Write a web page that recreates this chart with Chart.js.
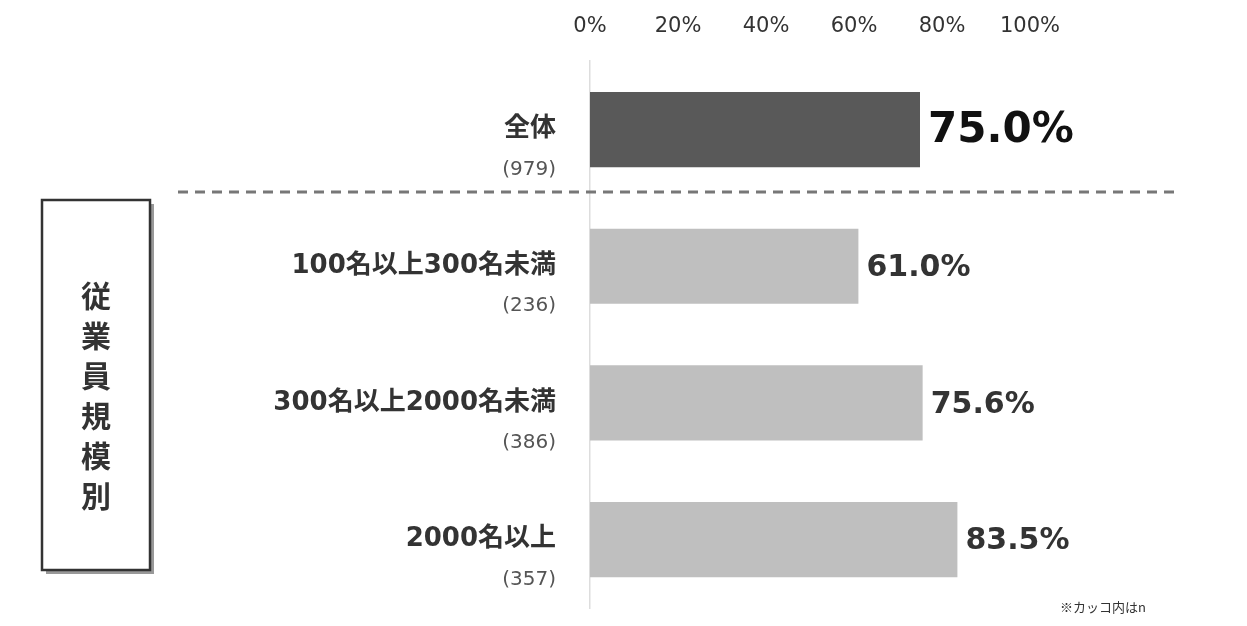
<!DOCTYPE html>
<html><head><meta charset="utf-8">
<script src="https://cdn.jsdelivr.net/npm/chart.js@4"></script>
<style>body{margin:0;background:#fff}#wrap{width:1247px;height:626px}</style>
</head><body><div id="wrap"><canvas id="c"></canvas></div>
<script>
const categories = ['全体', '100名以上300名未満', '300名以上2000名未満', '2000名以上'];
const counts = ['(979)', '(236)', '(386)', '(357)'];
const values = [75.0, 61.0, 75.6, 83.5];
const tickValues = [0, 20, 40, 60, 80, 100];
const FONT = '"DejaVu Sans", "Noto Sans CJK JP", sans-serif';
const JP = '"Noto Sans CJK JP", sans-serif';

const labelsPlugin = {
  id: 'labels',
  afterDraw(chart) {
    const ctx = chart.ctx;
    const meta = chart.getDatasetMeta(0);
    ctx.save();
    meta.data.forEach((bar, i) => {
      const cy = bar.y;
      ctx.textAlign = 'right';
      ctx.textBaseline = 'middle';
      ctx.fillStyle = '#333';
      ctx.font = 'bold 26px ' + FONT;
      ctx.fillText(categories[i], 556, cy);
      ctx.font = '20px ' + FONT;
      ctx.fillStyle = '#555';
      ctx.fillText(counts[i], 556, cy + 40);
      ctx.textAlign = 'left';
      ctx.fillStyle = i === 0 ? '#111' : '#333';
      ctx.font = (i === 0 ? 'bold 42px ' : 'bold 30px ') + FONT;
      ctx.fillText(values[i].toFixed(1) + '%', bar.x + 8, cy + 2);
    });
    const sepY = (meta.data[0].y + meta.data[1].y) / 2 - 6;
    ctx.strokeStyle = '#777';
    ctx.lineWidth = 3;
    ctx.setLineDash([10, 7]);
    ctx.beginPath(); ctx.moveTo(178, sepY); ctx.lineTo(1175, sepY); ctx.stroke();
    ctx.setLineDash([]);
    ctx.fillStyle = '#999';
    ctx.fillRect(46, 204, 108, 370);
    ctx.fillStyle = '#fff';
    ctx.fillRect(42, 200, 108, 370);
    ctx.strokeStyle = '#333'; ctx.lineWidth = 2.5;
    ctx.strokeRect(42, 200, 108, 370);
    ctx.fillStyle = '#333';
    ctx.font = 'bold 30px ' + JP;
    ctx.textAlign = 'center';
    [...'従業員規模別'].forEach((ch, k) => ctx.fillText(ch, 96, 296 + k * 40));
    ctx.font = '13px ' + JP;
    ctx.textAlign = 'left';
    ctx.fillText('※カッコ内はn', 1060, 607);
    ctx.restore();
  }
};

new Chart(document.getElementById('c'), {
  type: 'bar',
  data: {
    labels: categories,
    datasets: [{
      data: values,
      backgroundColor: ['#595959', '#bfbfbf', '#bfbfbf', '#bfbfbf'],
      barPercentage: 0.55,
      categoryPercentage: 1
    }]
  },
  options: {
    indexAxis: 'y',
    responsive: true,
    maintainAspectRatio: false,
    animation: false,
    layout: { padding: { left: 582, right: 217, top: 0, bottom: 18 } },
    plugins: { legend: { display: false }, tooltip: { enabled: false } },
    scales: {
      x: {
        position: 'top',
        min: 0, max: 100,
        afterBuildTicks: s => { s.ticks = tickValues.map(v => ({ value: v })); },
        ticks: { callback: v => v + '%', color: '#333', font: { size: 21, family: FONT }, padding: 14 },
        grid: { display: false },
        border: { display: false }
      },
      y: {
        ticks: { display: false },
        grid: { display: false },
        border: { color: '#ddd', width: 1.5 }
      }
    }
  },
  plugins: [labelsPlugin]
});
</script></body></html>
